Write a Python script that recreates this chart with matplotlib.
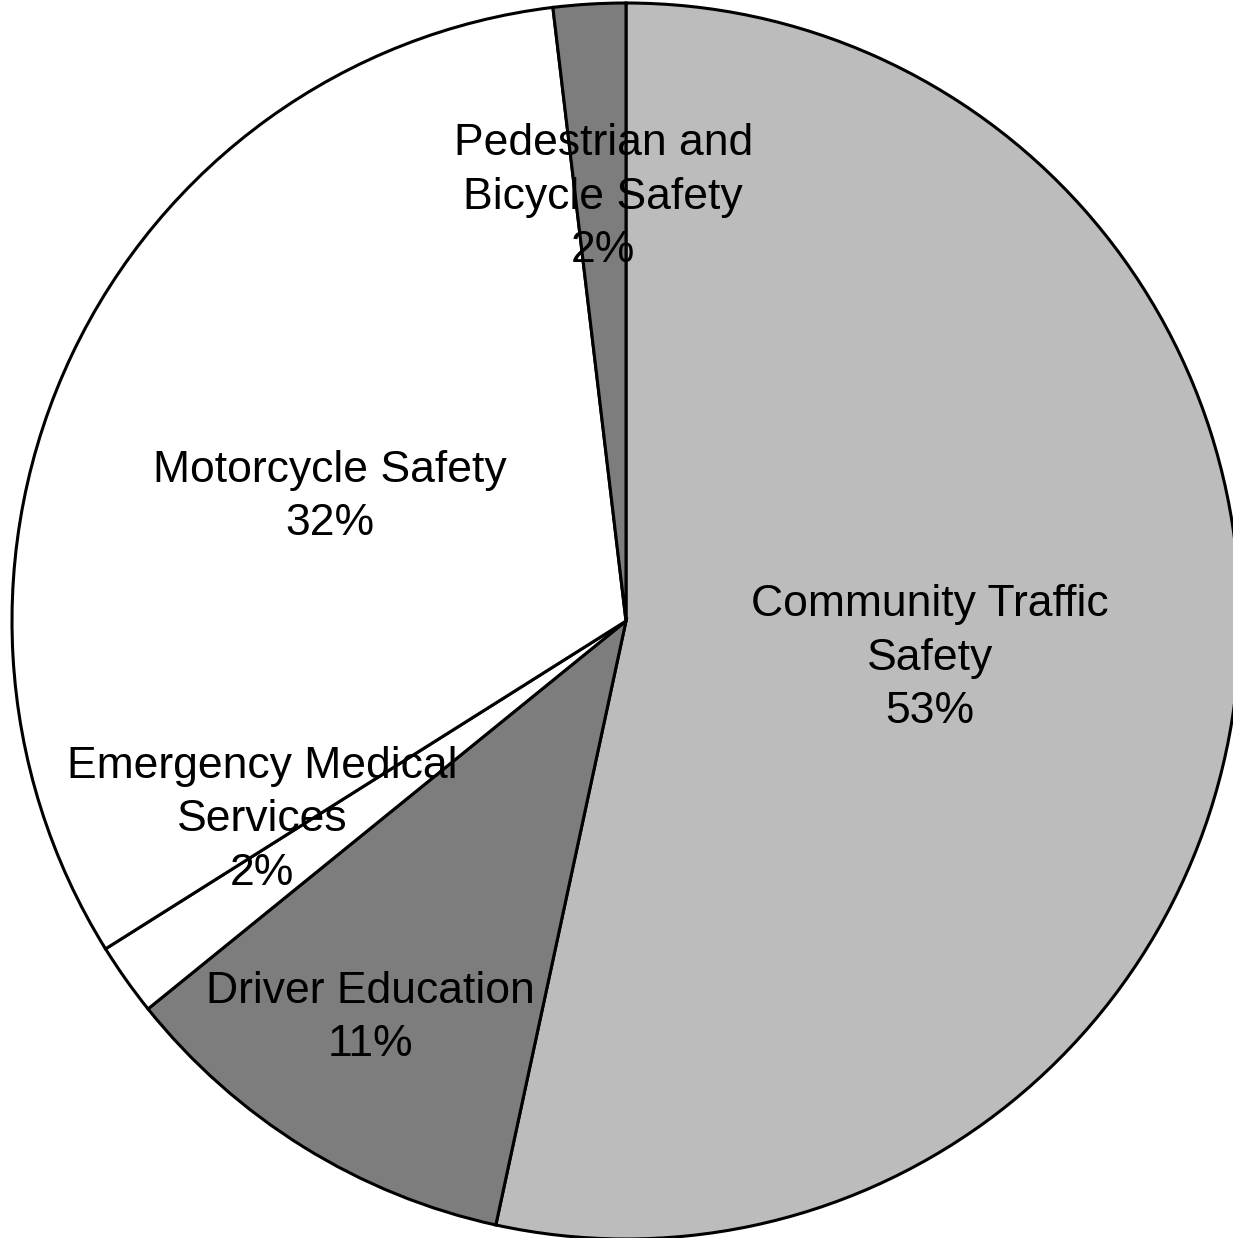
import matplotlib
matplotlib.use("Agg")
import matplotlib.pyplot as plt

# slices in clockwise order starting at 12 o'clock
names = ["Community Traffic\nSafety", "Driver Education", "Emergency Medical\nServices",
         "Motorcycle Safety", "Pedestrian and\nBicycle Safety"]
shares = [53.4, 10.8, 1.9, 32.0, 1.9]
colours = ["#bcbcbc", "#7d7d7d", "#ffffff", "#ffffff", "#7d7d7d"]

# where the labels sit (pie units, centre = 0,0)
label_xy = [(0.495, -0.060), (-0.417, -0.642), (-0.593, -0.322),
            (-0.482, 0.201), (-0.037, 0.686)]

W, H = 1233, 1238
cx, cy = 626, 621
rx, ry = 614, 618

fig = plt.figure(figsize=(W / 100, H / 100), dpi=100)
ax = fig.add_axes([0, 0, 1, 1])
ax.pie(shares, colors=colours, startangle=90, counterclock=False, radius=1,
       wedgeprops=dict(edgecolor="black", linewidth=2.2))
ax.set_aspect("auto")
ax.set_xlim(-cx / rx, (W - cx) / rx)
ax.set_ylim(-(H - cy) / ry, cy / ry)
ax.axis("off")

for name, val, (x, y) in zip(names, shares, label_xy):
    ax.text(x, y, f"{name}\n{round(val)}%", ha="center", va="center", fontsize=32,
            family="Liberation Sans", linespacing=1.38, color="black")

fig.savefig("out.png", dpi=100, facecolor="white")
